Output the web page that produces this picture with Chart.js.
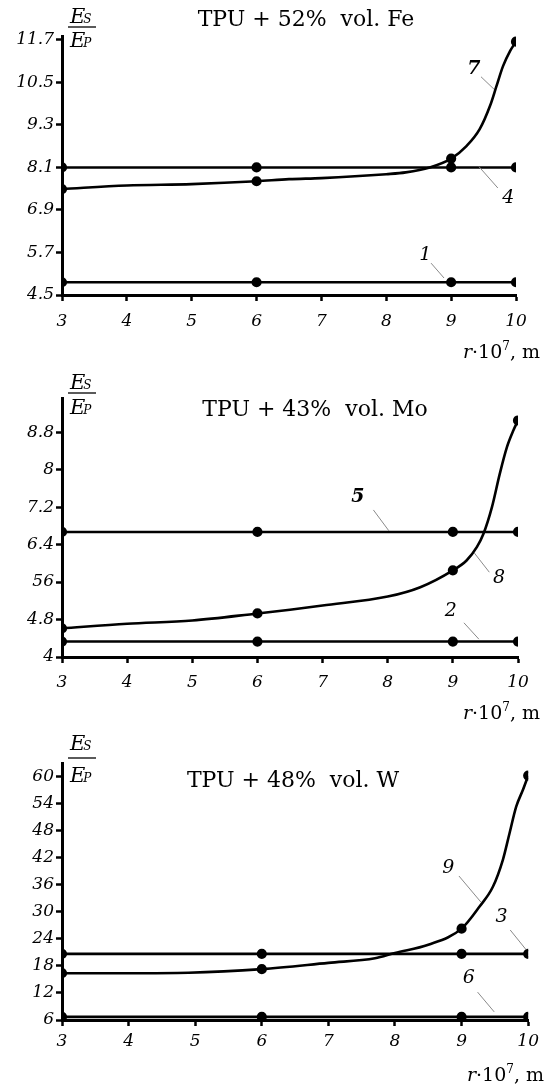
<!DOCTYPE html>
<html>
<head>
<meta charset="utf-8">
<script src="https://cdn.jsdelivr.net/npm/chart.js@4.4.1/dist/chart.umd.min.js"></script>
<style>
  html, body { margin: 0; padding: 0; background: #fff; }
  body { width: 544px; height: 1086px; position: relative; overflow: hidden; }
  .panel { position: absolute; left: 0; width: 544px; }
</style>
</head>
<body>
<div class="panel" style="top:0;height:365px"><canvas id="fe" width="544" height="365"></canvas></div>
<div class="panel" style="top:365px;height:365px"><canvas id="mo" width="544" height="365"></canvas></div>
<div class="panel" style="top:730px;height:356px"><canvas id="w" width="544" height="356"></canvas></div>
<script>
// r·10^7, m
const markerX = [3, 6, 9, 10];
const xTicks = [3, 4, 5, 6, 7, 8, 9, 10];

// TPU + 52% vol. Fe
const feLine1 = [4.86, 4.86, 4.86, 4.86];
const feLine4 = [8.1, 8.1, 8.1, 8.1];
const feCurve7X = [3, 4, 5, 6, 6.5, 7, 8, 8.3, 8.67, 9, 9.24, 9.44, 9.6, 9.7, 9.8, 9.91, 10];
const feCurve7Y = [7.49, 7.59, 7.63, 7.71, 7.77, 7.80, 7.91, 7.96, 8.1, 8.35, 8.71, 9.18, 9.84, 10.40, 10.96, 11.39, 11.65];
const feYMajor = [4.5, 5.7, 6.9, 8.1, 9.3, 10.5, 11.7];
const feYLabels = ['4.5', '5.7', '6.9', '8.1', '9.3', '10.5', '11.7'];
const feYMinor = [5.1, 6.3, 7.5, 8.7, 9.9, 11.1];

// TPU + 43% vol. Mo
const moLine2 = [4.33, 4.33, 4.33, 4.33];
const moLine5 = [6.67, 6.67, 6.67, 6.67];
const moCurve8X = [3, 4, 5, 6, 6.5, 7, 8, 8.5, 9, 9.21, 9.37, 9.47, 9.6, 9.72, 9.83, 9.93, 10];
const moCurve8Y = [4.61, 4.71, 4.78, 4.93, 5.01, 5.10, 5.29, 5.49, 5.85, 6.06, 6.35, 6.63, 7.20, 7.91, 8.48, 8.84, 9.05];
const moYMajor = [4, 4.8, 5.6, 6.4, 7.2, 8, 8.8];
const moYLabels = ['4', '4.8', '56', '6.4', '7.2', '8', '8.8'];
const moYMinor = [4.4, 5.2, 6, 6.8, 7.6, 8.4, 9.2];

// TPU + 48% vol. W
const wLine3 = [20.7, 20.7, 20.7, 20.7];
const wLine6 = [6.7, 6.7, 6.7, 6.7];
const wCurve9X = [3, 4, 4.9, 6, 7, 7.7, 8, 8.5, 9, 9.27, 9.47, 9.62, 9.72, 9.82, 9.92, 10];
const wCurve9Y = [16.4, 16.4, 16.5, 17.3, 18.7, 19.7, 20.9, 22.7, 26.3, 31.2, 35.6, 41.6, 47.5, 53.4, 57.1, 60.3];
const wYMajor = [6, 12, 18, 24, 30, 36, 42, 48, 54, 60];
const wYLabels = ['6', '12', '18', '24', '30', '36', '42', '48', '54', '60'];
const wYMinor = [];

const serif = '"DejaVu Serif", "Liberation Serif", serif';

function pts(xs, ys) {
    return xs.map((x, i) => ({ x: x, y: ys[i] }));
}

function series(xs, ys, curved) {
    return {
        data: pts(xs, ys),
        borderColor: '#000',
        backgroundColor: '#000',
        borderWidth: 2.6,
        pointRadius: ctx => markerX.includes(ctx.raw.x) ? 3.8 : 0,
        pointStyle: 'circle',
        cubicInterpolationMode: curved ? 'monotone' : 'default',
        tension: 0,
        fill: false
    };
}

// label with leader line, positions in data units
function drawNote(ctx, xs, ys, n) {
    ctx.strokeStyle = '#8a8a8a';
    ctx.lineWidth = 1;
    ctx.beginPath();
    ctx.moveTo(xs.getPixelForValue(n.from[0]), ys.getPixelForValue(n.from[1]));
    ctx.lineTo(xs.getPixelForValue(n.to[0]), ys.getPixelForValue(n.to[1]));
    ctx.stroke();
    ctx.font = (n.bold ? 'italic bold ' : 'italic ') + '19px ' + serif;
    ctx.textAlign = 'center';
    ctx.textBaseline = 'middle';
    ctx.fillText(n.text, xs.getPixelForValue(n.at[0]), ys.getPixelForValue(n.at[1]));
}

const textPlugin = {
    id: 'panelText',
    afterDraw(chart) {
        const p = chart.config.options.plugins.panelText;
        const ctx = chart.ctx, xs = chart.scales.x, ys = chart.scales.y;
        ctx.save();
        ctx.fillStyle = '#000';

        // title
        ctx.font = '22px ' + serif;
        ctx.textAlign = 'center';
        ctx.textBaseline = 'alphabetic';
        ctx.fillText(p.title, p.titleX, p.titleY);

        // Es / Ep
        ctx.textAlign = 'left';
        ctx.font = 'italic 21px ' + serif;
        ctx.fillText('E', p.fracX, p.numY);
        ctx.fillText('E', p.fracX, p.denY);
        let ew = ctx.measureText('E').width;
        ctx.font = 'italic 12px ' + serif;
        ctx.fillText('S', p.fracX + ew - 2, p.numY);
        ctx.fillText('P', p.fracX + ew - 2, p.denY);
        ctx.strokeStyle = '#000';
        ctx.lineWidth = 1.3;
        ctx.beginPath();
        ctx.moveTo(p.fracX - 2, p.barY);
        ctx.lineTo(p.fracX + 26, p.barY);
        ctx.stroke();

        // r·10^7, m
        const parts = [
            ['italic 19px ' + serif, 'r', 0],
            ['19px ' + serif, '\u00b710', 0],
            ['12px ' + serif, '7', -8],
            ['19px ' + serif, ', m', 0]
        ];
        let total = 0;
        parts.forEach(q => { ctx.font = q[0]; total += ctx.measureText(q[1]).width; });
        let x = p.axisRight - total;
        parts.forEach(q => {
            ctx.font = q[0];
            ctx.fillText(q[1], x, p.axisY + q[2]);
            x += ctx.measureText(q[1]).width;
        });

        p.notes.forEach(n => drawNote(ctx, xs, ys, n));
        ctx.restore();
    }
};

function makeChart(id, c) {
    const ticksY = c.yMajor.concat(c.yMinor).sort((a, b) => a - b);
    return new Chart(document.getElementById(id), {
        type: 'line',
        data: { datasets: c.datasets },
        plugins: [textPlugin],
        options: {
            responsive: false,
            devicePixelRatio: 1,
            animation: false,
            layout: { padding: { top: c.padTop, right: c.padRight, left: 0, bottom: 0 } },
            plugins: {
                legend: { display: false },
                tooltip: { enabled: false },
                panelText: c.text
            },
            scales: {
                x: {
                    type: 'linear',
                    min: 3,
                    max: 10,
                    afterBuildTicks: s => { s.ticks = xTicks.map(v => ({ value: v })); },
                    afterFit: s => { s.height = c.xHeight; },
                    grid: { drawOnChartArea: false, drawTicks: true, tickLength: 6, tickWidth: 2.5, color: '#000' },
                    border: { display: true, width: 3, color: '#000' },
                    ticks: {
                        color: '#000',
                        padding: c.xPad,
                        maxRotation: 0,
                        font: { family: serif, style: 'italic', size: 17 },
                        callback: v => String(v)
                    }
                },
                y: {
                    type: 'linear',
                    min: c.yMin,
                    max: c.yMax,
                    afterBuildTicks: s => { s.ticks = ticksY.map(v => ({ value: v })); },
                    afterFit: s => { s.width = 62; },
                    grid: { drawOnChartArea: false, drawTicks: true, tickLength: 6, tickWidth: 2.5, color: '#000' },
                    border: { display: true, width: 3, color: '#000' },
                    ticks: {
                        color: '#000',
                        padding: 2,
                        font: { family: serif, style: 'italic', size: 17 },
                        callback: v => {
                            const i = c.yMajor.findIndex(m => Math.abs(m - v) < 1e-6);
                            return i >= 0 ? c.yLabels[i] : '';
                        }
                    }
                }
            }
        }
    });
}

makeChart('fe', {
    datasets: [
        series(markerX, feLine1, false),
        series(markerX, feLine4, false),
        series(feCurve7X, feCurve7Y, true)
    ],
    yMajor: feYMajor, yLabels: feYLabels, yMinor: feYMinor,
    yMin: 4.5, yMax: 11.81,
    padTop: 36, padRight: 28, xHeight: 70, xPad: 10,
    text: {
        title: 'TPU + 52%  vol. Fe', titleX: 306, titleY: 26,
        fracX: 70, numY: 23, barY: 27, denY: 47,
        axisRight: 540, axisY: 358,
        notes: [
            { text: '7', bold: true, at: [9.35, 10.88], from: [9.46, 10.66], to: [9.66, 10.31] },
            { text: '4', at: [9.88, 7.24], from: [9.43, 8.12], to: [9.72, 7.52] },
            { text: '1', at: [8.6, 5.63], from: [8.69, 5.4], to: [8.89, 4.98] }
        ]
    }
});

makeChart('mo', {
    datasets: [
        series(markerX, moLine2, false),
        series(markerX, moLine5, false),
        series(moCurve8X, moCurve8Y, true)
    ],
    yMajor: moYMajor, yLabels: moYLabels, yMinor: moYMinor,
    yMin: 4, yMax: 9.53,
    padTop: 33, padRight: 26, xHeight: 73, xPad: 9,
    text: {
        title: 'TPU + 43%  vol. Mo', titleX: 315, titleY: 51,
        fracX: 70, numY: 24, barY: 28, denY: 49,
        axisRight: 540, axisY: 354,
        notes: [
            { text: '5', bold: true, at: [7.54, 7.41], from: [7.78, 7.14], to: [8.02, 6.69] },
            { text: '8', at: [9.71, 5.69], from: [9.33, 6.22], to: [9.56, 5.81] },
            { text: '2', at: [8.97, 4.98], from: [9.17, 4.73], to: [9.4, 4.38] }
        ]
    }
});

makeChart('w', {
    datasets: [
        series(markerX, wLine6, false),
        series(markerX, wLine3, false),
        series(wCurve9X, wCurve9Y, true)
    ],
    yMajor: wYMajor, yLabels: wYLabels, yMinor: wYMinor,
    yMin: 6, yMax: 63.1,
    padTop: 33, padRight: 12, xHeight: 66, xPad: 5,
    text: {
        title: 'TPU + 48%  vol. W', titleX: 293, titleY: 57,
        fracX: 70, numY: 20, barY: 28, denY: 52,
        axisRight: 544, axisY: 351,
        notes: [
            { text: '9', at: [8.8, 39.8], from: [8.96, 38.0], to: [9.29, 32.2] },
            { text: '3', at: [9.6, 28.9], from: [9.73, 26.0], to: [9.97, 21.6] },
            { text: '6', at: [9.11, 15.3], from: [9.24, 12.2], to: [9.49, 7.8] }
        ]
    }
});
</script>
</body>
</html>
